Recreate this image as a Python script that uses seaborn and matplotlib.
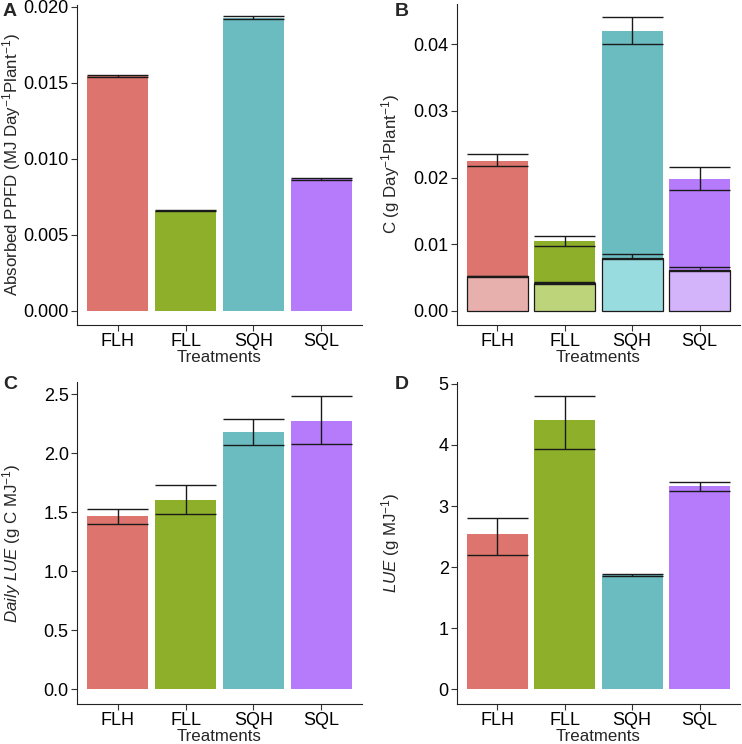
import matplotlib
matplotlib.use("Agg")
import matplotlib.pyplot as plt
import seaborn as sns
import numpy as np
import pandas as pd

# data
treatments = ["FLH", "FLL", "SQH", "SQL"]
colors = ["#DD756E", "#8DAF2A", "#6BBCC1", "#B57BFA"]
light_colors = ["#E8B0AC", "#BDD47A", "#99DCE0", "#D3B3FA"]

ppfd = [0.01541, 0.00658, 0.01925, 0.00868]
ppfd_lo = [0.01535, 0.00655, 0.01915, 0.00862]
ppfd_hi = [0.01547, 0.00661, 0.01935, 0.00874]

c_total = [0.0225, 0.0105, 0.0420, 0.0198]
c_total_lo = [0.0218, 0.0097, 0.0400, 0.0181]
c_total_hi = [0.0235, 0.0113, 0.0440, 0.0216]
c_lower = [0.0052, 0.0042, 0.0080, 0.0062]
c_lower_lo = [0.0051, 0.0041, 0.0078, 0.0060]
c_lower_hi = [0.0053, 0.0044, 0.0085, 0.0066]

daily_lue = [1.465, 1.603, 2.18, 2.274]
daily_lue_lo = [1.403, 1.482, 2.073, 2.079]
daily_lue_hi = [1.527, 1.728, 2.293, 2.486]

lue = [2.538, 4.41, 1.878, 3.324]
lue_lo = [2.194, 3.936, 1.85, 3.248]
lue_hi = [2.806, 4.798, 1.883, 3.395]

sns.set_style("ticks")
plt.rcParams["font.family"] = ["Liberation Sans", "DejaVu Sans"]
plt.rcParams["mathtext.fontset"] = "custom"
plt.rcParams["mathtext.rm"] = "Liberation Sans"
plt.rcParams["mathtext.it"] = "Liberation Sans:italic"
plt.rcParams["mathtext.bf"] = "Liberation Sans:bold"

FS_TICK = 13
FS_LAB = 12.2
BAR_W = 0.9


def draw_bars(ax, values, palette, edge=None):
    df = pd.DataFrame({"Treatments": treatments, "value": values})
    sns.barplot(data=df, x="Treatments", y="value", hue="Treatments",
                palette=palette, width=BAR_W, legend=False, ax=ax,
                errorbar=None, saturation=1,
                edgecolor=edge if edge else "none",
                linewidth=0.9 if edge else 0)


def draw_err(ax, lo, hi):
    for i, (l, h) in enumerate(zip(lo, hi)):
        ax.vlines(i, l, h, color="#1a1a1a", lw=1.0, zorder=5)
        ax.hlines([l, h], i - BAR_W / 2, i + BAR_W / 2, color="#1a1a1a", lw=1.0, zorder=5)


def style(ax, ylim, ticks, ticklabels, ylabel, label_x):
    ax.set_xlim(-0.6, 3.6)
    ax.set_ylim(*ylim)
    ax.set_yticks(ticks)
    ax.set_yticklabels(ticklabels)
    ax.set_xlabel("Treatments", fontsize=FS_LAB, labelpad=0)
    ax.set_ylabel(ylabel, fontsize=FS_LAB)
    ax.yaxis.set_label_coords(label_x, 0.5)
    ax.tick_params(labelsize=FS_TICK, length=4, width=0.8, color="#333333", labelcolor="black")
    ax.tick_params(axis="y", pad=2)
    ax.tick_params(axis="x", pad=2)
    for pos in ["left", "bottom"]:
        ax.spines[pos].set_linewidth(0.8)
        ax.spines[pos].set_color("#222222")
    sns.despine(ax=ax)
    ax.grid(False)


fig = plt.figure(figsize=(7.42, 7.44), dpi=100)
W, H = 742, 744


def add_axes(left, top, right, bottom):
    return fig.add_axes([left / W, 1 - bottom / H, (right - left) / W, (bottom - top) / H])


axA = add_axes(77, 5, 362, 325)
axB = add_axes(457, 4, 740, 325)
axC = add_axes(77, 382, 362, 704)
axD = add_axes(457, 382, 740, 704)

# A
draw_bars(axA, ppfd, colors)
draw_err(axA, ppfd_lo, ppfd_hi)
style(axA, (-0.00092, 0.0201), [0, 0.005, 0.01, 0.015, 0.02],
      ["0.000", "0.005", "0.010", "0.015", "0.020"],
      r"Absorbed PPFD (MJ Day$^{-1}$Plant$^{-1}$)", -0.19)

# B
draw_bars(axB, c_total, colors)
draw_err(axB, c_total_lo, c_total_hi)
draw_bars(axB, c_lower, light_colors, edge="#1a1a1a")
draw_err(axB, c_lower_lo, c_lower_hi)
style(axB, (-0.0021, 0.046), [0, 0.01, 0.02, 0.03, 0.04],
      ["0.00", "0.01", "0.02", "0.03", "0.04"],
      r"C (g Day$^{-1}$Plant$^{-1}$)", -0.195)

# C
draw_bars(axC, daily_lue, colors)
draw_err(axC, daily_lue_lo, daily_lue_hi)
style(axC, (-0.124, 2.604), [0, 0.5, 1, 1.5, 2, 2.5],
      ["0.0", "0.5", "1.0", "1.5", "2.0", "2.5"],
      r"$\mathit{Daily\ LUE}$ (g C MJ$^{-1}$)", -0.19)

# D
draw_bars(axD, lue, colors)
draw_err(axD, lue_lo, lue_hi)
style(axD, (-0.24, 5.03), [0, 1, 2, 3, 4, 5],
      ["0", "1", "2", "3", "4", "5"],
      r"$\mathit{LUE}$ (g MJ$^{-1}$)", -0.195)

for lab, x, y in [("A", 3, 3), ("B", 395, 3), ("C", 3, 376), ("D", 395, 376)]:
    fig.text(x / W, 1 - y / H, lab, fontsize=14, fontweight="bold", va="top", ha="left")

fig.savefig("out.png", dpi=100)
